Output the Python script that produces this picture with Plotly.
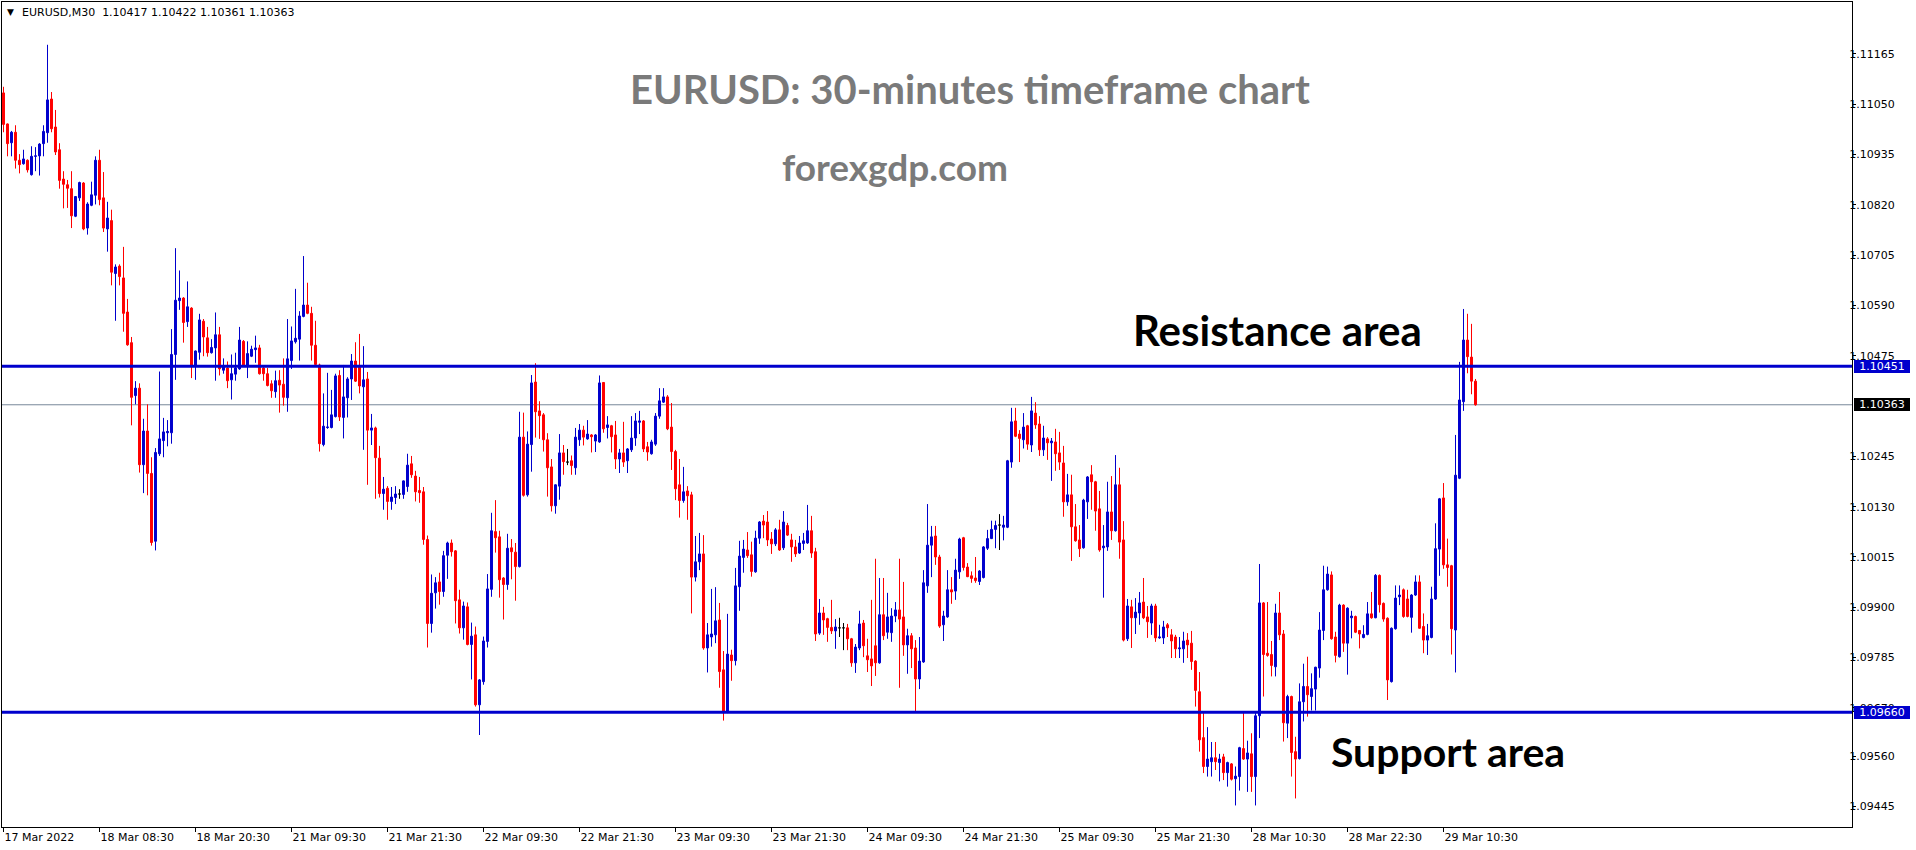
import plotly.graph_objects as go

# ---------------- data (EURUSD M30, one value per bar) ----------------
date_labels = ["17 Mar 2022", "18 Mar 08:30", "18 Mar 20:30", "21 Mar 09:30", "21 Mar 21:30",
               "22 Mar 09:30", "22 Mar 21:30", "23 Mar 09:30", "23 Mar 21:30", "24 Mar 09:30",
               "24 Mar 21:30", "25 Mar 09:30", "25 Mar 21:30", "28 Mar 10:30", "28 Mar 22:30",
               "29 Mar 10:30"]
label_bars = [0, 24, 48, 72, 96, 120, 144, 168, 192, 216, 240, 264, 288, 312, 336, 360]

price_ticks = [1.11165, 1.11050, 1.10935, 1.10820, 1.10705, 1.10590, 1.10475,
               1.10245, 1.10130, 1.10015, 1.09900, 1.09785, 1.09670, 1.09560, 1.09445]

resistance = 1.10451
support = 1.09660
last_price = 1.10363

opens = [
 1.11076, 1.11005, 1.10962, 1.10986, 1.10922, 1.10914, 1.10922, 1.10889, 1.10931, 1.10932,
 1.10960, 1.10985, 1.11062, 1.10998, 1.10946, 1.10879, 1.10866, 1.10857, 1.10794, 1.10836,
 1.10870, 1.10767, 1.10819, 1.10842, 1.10922, 1.10836, 1.10765, 1.10784, 1.10663, 1.10680,
 1.10653, 1.10575, 1.10505, 1.10384, 1.10401, 1.10226, 1.10303, 1.10206, 1.10051, 1.10251,
 1.10281, 1.10299, 1.10299, 1.10478, 1.10601, 1.10607, 1.10553, 1.10584, 1.10451, 1.10483,
 1.10554, 1.10516, 1.10482, 1.10493, 1.10523, 1.10442, 1.10447, 1.10420, 1.10433, 1.10445,
 1.10508, 1.10453, 1.10474, 1.10489, 1.10493, 1.10447, 1.10434, 1.10411, 1.10393, 1.10419,
 1.10410, 1.10379, 1.10464, 1.10507, 1.10513, 1.10565, 1.10591, 1.10572, 1.10499, 1.10454,
 1.10272, 1.10311, 1.10311, 1.10336, 1.10430, 1.10334, 1.10379, 1.10422, 1.10463, 1.10449,
 1.10404, 1.10422, 1.10305, 1.10310, 1.10241, 1.10160, 1.10172, 1.10142, 1.10151, 1.10159,
 1.10158, 1.10176, 1.10228, 1.10200, 1.10167, 1.10164, 1.10055, 1.09863, 1.09933, 1.09958,
 1.09936, 1.10019, 1.10047, 1.10029, 1.09917, 1.09853, 1.09901, 1.09815, 1.09837, 1.09677,
 1.09730, 1.09822, 1.09941, 1.10073, 1.10061, 1.09967, 1.09952, 1.10036, 1.10026, 1.09993,
 1.10289, 1.10157, 1.10272, 1.10415, 1.10349, 1.10340, 1.10283, 1.10221, 1.10132, 1.10177,
 1.10253, 1.10232, 1.10235, 1.10219, 1.10283, 1.10305, 1.10285, 1.10294, 1.10280, 1.10278,
 1.10414, 1.10311, 1.10315, 1.10294, 1.10239, 1.10253, 1.10235, 1.10260, 1.10287, 1.10323,
 1.10326, 1.10267, 1.10251, 1.10273, 1.10337, 1.10369, 1.10381, 1.10312, 1.10256, 1.10180,
 1.10144, 1.10166, 1.10157, 1.09969, 1.10004, 1.10022, 1.09807, 1.09832, 1.09837, 1.09871,
 1.09757, 1.09660, 1.09791, 1.09778, 1.09947, 1.10014, 1.10031, 1.10020, 1.09981, 1.10058,
 1.10097, 1.10095, 1.10056, 1.10045, 1.10077, 1.10036, 1.10087, 1.10054, 1.10038, 1.10024,
 1.10046, 1.10047, 1.10075, 1.10027, 1.09841, 1.09887, 1.09874, 1.09854, 1.09846, 1.09853,
 1.09853, 1.09853, 1.09828, 1.09773, 1.09807, 1.09864, 1.09789, 1.09782, 1.09812, 1.09773,
 1.09883, 1.09843, 1.09842, 1.09880, 1.09894, 1.09878, 1.09814, 1.09835, 1.09807, 1.09736,
 1.09775, 1.09949, 1.10042, 1.10063, 1.10015, 1.09860, 1.09878, 1.09940, 1.09937, 1.09981,
 1.10059, 1.09992, 1.09972, 1.09967, 1.09959, 1.09968, 1.10035, 1.10057, 1.10078, 1.10088,
 1.10083, 1.10083, 1.10232, 1.10326, 1.10296, 1.10283, 1.10315, 1.10271, 1.10344, 1.10319,
 1.10260, 1.10285, 1.10276, 1.10278, 1.10253, 1.10230, 1.10141, 1.10157, 1.10084, 1.10054,
 1.10036, 1.10141, 1.10203, 1.10187, 1.10125, 1.10036, 1.10038, 1.10118, 1.10075, 1.10180,
 1.10054, 1.09828, 1.09901, 1.09876, 1.09887, 1.09912, 1.09878, 1.09864, 1.09903, 1.09830,
 1.09830, 1.09860, 1.09837, 1.09832, 1.09805, 1.09805, 1.09825, 1.09818, 1.09777, 1.09707,
 1.09602, 1.09536, 1.09547, 1.09556, 1.09545, 1.09558, 1.09522, 1.09542, 1.09508, 1.09513,
 1.09577, 1.09553, 1.09565, 1.09513, 1.09652, 1.09910, 1.09795, 1.09792, 1.09764, 1.09887,
 1.09839, 1.09635, 1.09696, 1.09570, 1.09554, 1.09684, 1.09719, 1.09696, 1.09713, 1.09761,
 1.09847, 1.09940, 1.09974, 1.09832, 1.09787, 1.09905, 1.09818, 1.09876, 1.09879, 1.09847,
 1.09831, 1.09838, 1.09885, 1.09876, 1.09973, 1.09909, 1.09875, 1.09730, 1.09851, 1.09924,
 1.09940, 1.09919, 1.09877, 1.09928, 1.09958, 1.09856, 1.09825, 1.09831, 1.09919, 1.10033,
 1.10150, 1.09997, 1.09995, 1.09848, 1.10195, 1.10370, 1.10511, 1.10472, 1.10417]

highs = [
 1.11090, 1.11006, 1.10989, 1.11002, 1.10936, 1.10946, 1.10924, 1.10954, 1.10952, 1.10961,
 1.11002, 1.11186, 1.11078, 1.11037, 1.10961, 1.10897, 1.10877, 1.10897, 1.10840, 1.10873,
 1.10872, 1.10826, 1.10873, 1.10931, 1.10946, 1.10895, 1.10827, 1.10809, 1.10684, 1.10684,
 1.10724, 1.10605, 1.10518, 1.10417, 1.10412, 1.10331, 1.10364, 1.10243, 1.10264, 1.10439,
 1.10333, 1.10328, 1.10536, 1.10721, 1.10670, 1.10609, 1.10645, 1.10586, 1.10487, 1.10571,
 1.10559, 1.10541, 1.10513, 1.10574, 1.10541, 1.10469, 1.10462, 1.10478, 1.10482, 1.10541,
 1.10511, 1.10508, 1.10498, 1.10521, 1.10500, 1.10449, 1.10447, 1.10419, 1.10441, 1.10442,
 1.10469, 1.10559, 1.10542, 1.10628, 1.10577, 1.10703, 1.10642, 1.10587, 1.10555, 1.10457,
 1.10389, 1.10436, 1.10397, 1.10434, 1.10442, 1.10454, 1.10426, 1.10479, 1.10506, 1.10525,
 1.10497, 1.10438, 1.10342, 1.10313, 1.10269, 1.10198, 1.10177, 1.10175, 1.10177, 1.10170,
 1.10190, 1.10251, 1.10246, 1.10212, 1.10198, 1.10175, 1.10064, 1.09975, 1.09969, 1.09979,
 1.10029, 1.10050, 1.10055, 1.10031, 1.09940, 1.09913, 1.09911, 1.09865, 1.09856, 1.09736,
 1.09833, 1.09976, 1.10116, 1.10145, 1.10075, 1.09969, 1.10068, 1.10056, 1.10047, 1.10347,
 1.10345, 1.10302, 1.10431, 1.10458, 1.10371, 1.10344, 1.10298, 1.10239, 1.10181, 1.10296,
 1.10271, 1.10262, 1.10247, 1.10310, 1.10319, 1.10315, 1.10328, 1.10296, 1.10296, 1.10430,
 1.10415, 1.10337, 1.10317, 1.10326, 1.10262, 1.10324, 1.10264, 1.10337, 1.10344, 1.10349,
 1.10328, 1.10278, 1.10283, 1.10344, 1.10401, 1.10401, 1.10385, 1.10367, 1.10260, 1.10239,
 1.10221, 1.10177, 1.10164, 1.10063, 1.10070, 1.10065, 1.09864, 1.09942, 1.09946, 1.09910,
 1.09800, 1.09885, 1.09803, 1.09990, 1.10052, 1.10054, 1.10072, 1.10050, 1.10075, 1.10097,
 1.10111, 1.10120, 1.10072, 1.10081, 1.10100, 1.10120, 1.10093, 1.10068, 1.10054, 1.10063,
 1.10070, 1.10134, 1.10109, 1.10036, 1.09919, 1.09901, 1.09876, 1.09917, 1.09873, 1.09876,
 1.09864, 1.09862, 1.09830, 1.09816, 1.09892, 1.09871, 1.09828, 1.09917, 1.10011, 1.09967,
 1.09967, 1.09933, 1.09898, 1.09912, 1.10011, 1.09958, 1.09851, 1.09841, 1.09825, 1.09832,
 1.09985, 1.10136, 1.10086, 1.10086, 1.10020, 1.09892, 1.09985, 1.09969, 1.10011, 1.10059,
 1.10061, 1.10001, 1.09982, 1.10015, 1.09985, 1.10040, 1.10077, 1.10098, 1.10098, 1.10113,
 1.10109, 1.10237, 1.10356, 1.10356, 1.10305, 1.10344, 1.10317, 1.10381, 1.10369, 1.10337,
 1.10315, 1.10289, 1.10287, 1.10308, 1.10301, 1.10269, 1.10205, 1.10203, 1.10136, 1.10088,
 1.10148, 1.10200, 1.10225, 1.10189, 1.10166, 1.10088, 1.10187, 1.10200, 1.10248, 1.10219,
 1.10097, 1.09919, 1.09917, 1.09921, 1.09935, 1.09967, 1.09903, 1.09908, 1.09908, 1.09860,
 1.09869, 1.09864, 1.09850, 1.09837, 1.09832, 1.09844, 1.09841, 1.09846, 1.09779, 1.09752,
 1.09658, 1.09626, 1.09592, 1.09592, 1.09565, 1.09565, 1.09547, 1.09544, 1.09536, 1.09581,
 1.09658, 1.09595, 1.09612, 1.09658, 1.09999, 1.09912, 1.09912, 1.09823, 1.09908, 1.09935,
 1.09848, 1.09700, 1.09698, 1.09604, 1.09726, 1.09771, 1.09787, 1.09749, 1.09764, 1.09889,
 1.09995, 1.09993, 1.09982, 1.09844, 1.09908, 1.09907, 1.09900, 1.09892, 1.09881, 1.09848,
 1.09859, 1.09912, 1.09935, 1.09976, 1.09975, 1.09911, 1.09877, 1.09854, 1.09950, 1.09950,
 1.09943, 1.09940, 1.09930, 1.09973, 1.09973, 1.09886, 1.09862, 1.09947, 1.10092, 1.10150,
 1.10184, 1.10057, 1.09997, 1.10294, 1.10461, 1.10582, 1.10571, 1.10548, 1.10422]

lows = [
 1.10986, 1.10931, 1.10931, 1.10903, 1.10892, 1.10912, 1.10894, 1.10887, 1.10897, 1.10887,
 1.10931, 1.10962, 1.10986, 1.10934, 1.10857, 1.10812, 1.10813, 1.10767, 1.10792, 1.10829,
 1.10762, 1.10752, 1.10817, 1.10821, 1.10819, 1.10758, 1.10713, 1.10636, 1.10555, 1.10636,
 1.10530, 1.10498, 1.10316, 1.10364, 1.10208, 1.10161, 1.10156, 1.10041, 1.10030, 1.10246,
 1.10243, 1.10268, 1.10274, 1.10420, 1.10580, 1.10505, 1.10541, 1.10424, 1.10420, 1.10466,
 1.10474, 1.10473, 1.10480, 1.10418, 1.10430, 1.10434, 1.10401, 1.10375, 1.10418, 1.10443,
 1.10451, 1.10424, 1.10472, 1.10459, 1.10432, 1.10418, 1.10405, 1.10379, 1.10379, 1.10345,
 1.10361, 1.10347, 1.10445, 1.10503, 1.10464, 1.10563, 1.10570, 1.10464, 1.10453, 1.10256,
 1.10268, 1.10308, 1.10309, 1.10334, 1.10326, 1.10286, 1.10334, 1.10374, 1.10415, 1.10389,
 1.10260, 1.10180, 1.10271, 1.10148, 1.10151, 1.10123, 1.10100, 1.10123, 1.10136, 1.10148,
 1.10148, 1.10164, 1.10196, 1.10142, 1.10139, 1.10043, 1.09808, 1.09842, 1.09897, 1.09906,
 1.09924, 1.09965, 1.10016, 1.09863, 1.09840, 1.09826, 1.09813, 1.09735, 1.09673, 1.09608,
 1.09723, 1.09808, 1.09924, 1.10025, 1.09922, 1.09872, 1.09940, 1.09964, 1.09915, 1.09991,
 1.10153, 1.10153, 1.10210, 1.10288, 1.10285, 1.10256, 1.10153, 1.10119, 1.10114, 1.10146,
 1.10203, 1.10225, 1.10203, 1.10203, 1.10269, 1.10270, 1.10283, 1.10254, 1.10255, 1.10276,
 1.10299, 1.10286, 1.10254, 1.10216, 1.10207, 1.10221, 1.10207, 1.10255, 1.10269, 1.10296,
 1.10255, 1.10235, 1.10249, 1.10269, 1.10331, 1.10367, 1.10305, 1.10214, 1.10145, 1.10105,
 1.10139, 1.10100, 1.09886, 1.09959, 1.09985, 1.09803, 1.09751, 1.09810, 1.09818, 1.09716,
 1.09641, 1.09658, 1.09732, 1.09767, 1.09892, 1.09979, 1.10013, 1.09970, 1.09979, 1.10045,
 1.10058, 1.10040, 1.10022, 1.10040, 1.10029, 1.10031, 1.10063, 1.10004, 1.10015, 1.10022,
 1.10031, 1.10045, 1.10013, 1.09823, 1.09837, 1.09837, 1.09821, 1.09839, 1.09805, 1.09832,
 1.09802, 1.09802, 1.09764, 1.09750, 1.09802, 1.09786, 1.09752, 1.09720, 1.09743, 1.09771,
 1.09825, 1.09828, 1.09821, 1.09866, 1.09716, 1.09789, 1.09748, 1.09761, 1.09663, 1.09713,
 1.09773, 1.09933, 1.09969, 1.09997, 1.09853, 1.09823, 1.09876, 1.09908, 1.09917, 1.09965,
 1.09984, 1.09969, 1.09956, 1.09956, 1.09951, 1.09966, 1.10031, 1.10056, 1.10035, 1.10031,
 1.10053, 1.10081, 1.10219, 1.10289, 1.10232, 1.10263, 1.10260, 1.10255, 1.10308, 1.10246,
 1.10246, 1.10237, 1.10189, 1.10212, 1.10214, 1.10107, 1.10132, 1.10006, 1.10050, 1.10015,
 1.10034, 1.10102, 1.10123, 1.10075, 1.10027, 1.09922, 1.10029, 1.10054, 1.10073, 1.10011,
 1.09822, 1.09823, 1.09807, 1.09839, 1.09860, 1.09873, 1.09830, 1.09837, 1.09821, 1.09828,
 1.09816, 1.09832, 1.09784, 1.09784, 1.09784, 1.09773, 1.09784, 1.09757, 1.09673, 1.09570,
 1.09521, 1.09513, 1.09513, 1.09528, 1.09502, 1.09505, 1.09490, 1.09504, 1.09447, 1.09481,
 1.09551, 1.09478, 1.09478, 1.09447, 1.09601, 1.09696, 1.09787, 1.09742, 1.09742, 1.09825,
 1.09593, 1.09601, 1.09513, 1.09463, 1.09552, 1.09639, 1.09650, 1.09664, 1.09664, 1.09739,
 1.09825, 1.09938, 1.09826, 1.09774, 1.09785, 1.09798, 1.09746, 1.09829, 1.09841, 1.09806,
 1.09829, 1.09836, 1.09874, 1.09875, 1.09888, 1.09867, 1.09688, 1.09728, 1.09849, 1.09905,
 1.09876, 1.09877, 1.09842, 1.09926, 1.09851, 1.09795, 1.09791, 1.09829, 1.09917, 1.09972,
 1.09988, 1.09947, 1.09792, 1.09751, 1.10193, 1.10349, 1.10435, 1.10387, 1.10361]

closes = [
 1.11004, 1.10960, 1.10986, 1.10922, 1.10912, 1.10925, 1.10900, 1.10931, 1.10932, 1.10959,
 1.10988, 1.11060, 1.10994, 1.10941, 1.10876, 1.10867, 1.10858, 1.10795, 1.10839, 1.10871,
 1.10765, 1.10822, 1.10843, 1.10922, 1.10832, 1.10767, 1.10790, 1.10666, 1.10678, 1.10656,
 1.10572, 1.10500, 1.10380, 1.10401, 1.10226, 1.10303, 1.10206, 1.10048, 1.10254, 1.10285,
 1.10301, 1.10302, 1.10478, 1.10602, 1.10607, 1.10551, 1.10587, 1.10451, 1.10486, 1.10557,
 1.10518, 1.10482, 1.10494, 1.10523, 1.10445, 1.10449, 1.10418, 1.10434, 1.10447, 1.10511,
 1.10454, 1.10480, 1.10490, 1.10493, 1.10434, 1.10434, 1.10407, 1.10395, 1.10418, 1.10408,
 1.10380, 1.10468, 1.10509, 1.10515, 1.10566, 1.10591, 1.10572, 1.10499, 1.10455, 1.10274,
 1.10314, 1.10312, 1.10340, 1.10429, 1.10335, 1.10381, 1.10422, 1.10463, 1.10417, 1.10406,
 1.10420, 1.10305, 1.10310, 1.10242, 1.10160, 1.10170, 1.10142, 1.10152, 1.10159, 1.10159,
 1.10189, 1.10225, 1.10203, 1.10164, 1.10162, 1.10055, 1.09863, 1.09932, 1.09956, 1.09936,
 1.10018, 1.10047, 1.10027, 1.09915, 1.09853, 1.09903, 1.09815, 1.09834, 1.09677, 1.09734,
 1.09823, 1.09942, 1.10075, 1.10059, 1.09963, 1.09952, 1.10035, 1.10027, 1.09993, 1.10289,
 1.10156, 1.10273, 1.10413, 1.10347, 1.10338, 1.10283, 1.10219, 1.10132, 1.10180, 1.10253,
 1.10233, 1.10232, 1.10224, 1.10289, 1.10305, 1.10289, 1.10296, 1.10290, 1.10294, 1.10413,
 1.10308, 1.10317, 1.10290, 1.10239, 1.10253, 1.10232, 1.10262, 1.10287, 1.10326, 1.10326,
 1.10262, 1.10255, 1.10278, 1.10337, 1.10372, 1.10381, 1.10308, 1.10256, 1.10171, 1.10144,
 1.10164, 1.10155, 1.09969, 1.10004, 1.10022, 1.09807, 1.09837, 1.09839, 1.09869, 1.09753,
 1.09659, 1.09793, 1.09778, 1.09949, 1.10017, 1.10033, 1.10018, 1.09982, 1.10058, 1.10095,
 1.10088, 1.10054, 1.10045, 1.10077, 1.10031, 1.10095, 1.10065, 1.10038, 1.10022, 1.10047,
 1.10052, 1.10075, 1.10024, 1.09839, 1.09887, 1.09871, 1.09854, 1.09846, 1.09855, 1.09853,
 1.09853, 1.09828, 1.09773, 1.09809, 1.09862, 1.09812, 1.09780, 1.09766, 1.09773, 1.09883,
 1.09835, 1.09878, 1.09880, 1.09894, 1.09873, 1.09814, 1.09835, 1.09805, 1.09736, 1.09777,
 1.09956, 1.10042, 1.10061, 1.10015, 1.09857, 1.09880, 1.09940, 1.09935, 1.09985, 1.10056,
 1.09991, 1.09970, 1.09966, 1.09961, 1.09983, 1.10038, 1.10057, 1.10078, 1.10087, 1.10088,
 1.10088, 1.10235, 1.10324, 1.10291, 1.10286, 1.10312, 1.10273, 1.10349, 1.10317, 1.10260,
 1.10287, 1.10276, 1.10280, 1.10251, 1.10232, 1.10141, 1.10157, 1.10084, 1.10052, 1.10034,
 1.10145, 1.10198, 1.10187, 1.10120, 1.10031, 1.10040, 1.10118, 1.10075, 1.10180, 1.10049,
 1.09825, 1.09903, 1.09876, 1.09889, 1.09910, 1.09876, 1.09867, 1.09903, 1.09830, 1.09832,
 1.09855, 1.09853, 1.09823, 1.09805, 1.09807, 1.09823, 1.09814, 1.09776, 1.09710, 1.09597,
 1.09536, 1.09553, 1.09556, 1.09547, 1.09553, 1.09522, 1.09545, 1.09507, 1.09514, 1.09579,
 1.09553, 1.09567, 1.09513, 1.09652, 1.09910, 1.09792, 1.09790, 1.09767, 1.09887, 1.09837,
 1.09636, 1.09696, 1.09568, 1.09553, 1.09684, 1.09719, 1.09700, 1.09714, 1.09763, 1.09848,
 1.09940, 1.09976, 1.09828, 1.09790, 1.09905, 1.09818, 1.09898, 1.09880, 1.09843, 1.09839,
 1.09838, 1.09885, 1.09876, 1.09973, 1.09906, 1.09873, 1.09734, 1.09852, 1.09921, 1.09928,
 1.09879, 1.09879, 1.09928, 1.09958, 1.09852, 1.09825, 1.09835, 1.09919, 1.10034, 1.10148,
 1.09997, 1.09991, 1.09851, 1.10202, 1.10374, 1.10511, 1.10473, 1.10417, 1.10363]

header_text = "EURUSD,M30&nbsp; 1.10417 1.10422 1.10361 1.10363"
title_text = "EURUSD: 30-minutes timeframe chart"
site_text = "forexgdp.com"
resistance_text = "Resistance area"
support_text = "Support area"

# ---------------- layout constants (pixels) ----------------
W, H = 1916, 850
ML, MR, MT, MB = 2, 64, 2, 23
PW, PH = W - ML - MR, H - MT - MB
BLUE = "#0000CD"
RED = "#FF0000"


def px(x):
    return (x - ML) / PW


def py(y):
    return (H - MB - y) / PH


n = len(closes)
bars = list(range(n))
up = [i for i in bars if closes[i] > opens[i]]
dn = [i for i in bars if closes[i] < opens[i]]
dj = [i for i in bars if closes[i] == opens[i]]


def candle(idx, color):
    return go.Candlestick(
        x=idx,
        open=[opens[i] for i in idx], high=[highs[i] for i in idx],
        low=[lows[i] for i in idx], close=[closes[i] for i in idx],
        increasing=dict(line=dict(color=color, width=1), fillcolor=color),
        decreasing=dict(line=dict(color=color, width=1), fillcolor=color),
        whiskerwidth=0, hoverinfo="skip", showlegend=False)


fig = go.Figure([candle(up, BLUE), candle(dn, RED), candle(dj, "#000000")])

shapes = [
    dict(type="line", xref="paper", x0=0, x1=1, yref="y", y0=last_price, y1=last_price,
         line=dict(color="#778899", width=1), layer="below"),
    dict(type="line", xref="paper", x0=0, x1=1, yref="y", y0=resistance, y1=resistance,
         line=dict(color=BLUE, width=3), layer="above"),
    dict(type="line", xref="paper", x0=0, x1=1, yref="y", y0=support, y1=support,
         line=dict(color=BLUE, width=3), layer="above"),
]


def big(size, color):
    return dict(family="Lato, 'Open Sans', sans-serif", size=size, weight=700, color=color)


annotations = [
    dict(text="▼", xref="paper", yref="paper", x=px(10.5), y=py(12), xanchor="center",
         yanchor="middle", showarrow=False, font=dict(family="DejaVu Sans", size=9, color="#000000")),
    dict(text=header_text, xref="paper", yref="paper", x=px(20), y=py(12.5), xanchor="left",
         yanchor="middle", showarrow=False, font=dict(family="DejaVu Sans", size=11, color="#000000")),
    dict(text=title_text, xref="paper", yref="paper", x=px(970), y=py(89), xanchor="center",
         yanchor="middle", showarrow=False, font=big(40, "#7a7a7a")),
    dict(text=site_text, xref="paper", yref="paper", x=px(895), y=py(167), xanchor="center",
         yanchor="middle", showarrow=False, font=big(37, "#7a7a7a")),
    dict(text=resistance_text, xref="paper", yref="paper", x=px(1277), y=py(330), xanchor="center",
         yanchor="middle", showarrow=False, font=big(42, "#000000")),
    dict(text=support_text, xref="paper", yref="paper", x=px(1448), y=py(751), xanchor="center",
         yanchor="middle", showarrow=False, font=big(41, "#000000")),
]
for val, bg in [(resistance, BLUE), (last_price, "#000000"), (support, BLUE)]:
    annotations.append(dict(
        text=f"{val:.5f}", xref="paper", x=1, xshift=2, xanchor="left",
        yref="y", y=val, yanchor="middle", showarrow=False,
        bgcolor=bg, borderwidth=0, width=54, height=11, borderpad=1, align="center",
        font=dict(family="DejaVu Sans", size=11, color="#FFFFFF")))

fig.update_layout(
    width=W, height=H, margin=dict(l=ML, r=MR, t=MT, b=MB, autoexpand=False),
    paper_bgcolor="#FFFFFF", plot_bgcolor="#FFFFFF",
    showlegend=False, shapes=shapes, annotations=annotations,
    font=dict(family="DejaVu Sans", size=11, color="#000000"),
    xaxis=dict(range=[-0.375, 462.125], rangeslider=dict(visible=False),
               tickmode="array", tickvals=label_bars, ticktext=date_labels,
               ticks="outside", ticklen=4, tickcolor="#000000", ticklabelposition="outside right",
               showgrid=False, zeroline=False, showline=True, linecolor="#000000",
               linewidth=1, mirror=True, tickfont=dict(family="DejaVu Sans", size=11)),
    yaxis=dict(range=[1.093977, 1.112838], side="right",
               tickmode="array", tickvals=price_ticks, ticktext=[f"{v:.5f}" for v in price_ticks],
               ticks="outside", ticklen=3, tickcolor="#000000", ticklabelstandoff=-9,
               showgrid=False, zeroline=False, showline=True, linecolor="#000000",
               linewidth=1, mirror=True, tickfont=dict(family="DejaVu Sans", size=11)),
)

fig.write_html("out.html", config={"displayModeBar": False},
               post_script="document.body.style.margin='0';document.body.style.overflow='hidden';")
